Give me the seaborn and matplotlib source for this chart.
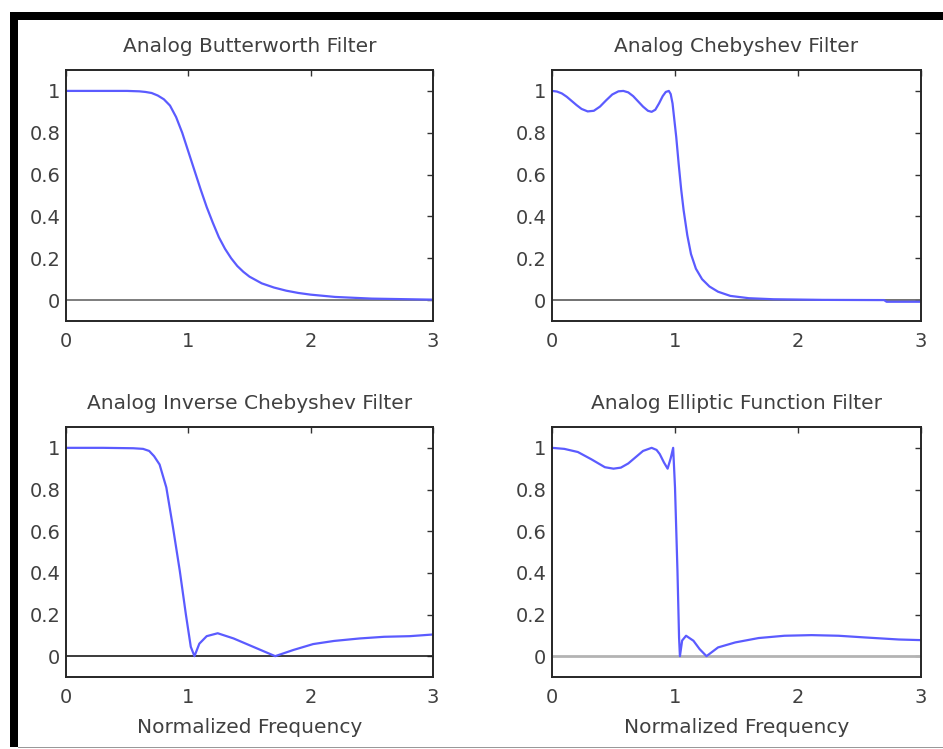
import seaborn as sns
import matplotlib.pyplot as plt
import pandas as pd
from matplotlib.patches import Rectangle

# Magnitude responses (normalized frequency vs |H|)

butter_x = [0, 0.3, 0.5, 0.6, 0.65, 0.7, 0.75, 0.8, 0.85, 0.9, 0.95, 1.0, 1.05, 1.1, 1.15,
            1.2, 1.25, 1.3, 1.35, 1.4, 1.45, 1.5, 1.6, 1.7, 1.8, 1.9, 2.0, 2.2, 2.5, 3.0]
butter_y = [1.0, 1.0, 1.0, 0.998, 0.995, 0.99, 0.978, 0.96, 0.93, 0.875, 0.80, 0.71, 0.62,
            0.53, 0.445, 0.37, 0.30, 0.245, 0.2, 0.163, 0.135, 0.112, 0.08, 0.06, 0.045,
            0.034, 0.026, 0.015, 0.007, 0.002]

cheby_x = [0, 0.04, 0.08, 0.12, 0.16, 0.2, 0.24, 0.29, 0.34, 0.39, 0.44, 0.49, 0.54, 0.58,
           0.62, 0.66, 0.70, 0.74, 0.78, 0.81, 0.84, 0.87, 0.9, 0.925, 0.95, 0.965, 0.98,
           0.995, 1.01, 1.03, 1.05, 1.07, 1.1, 1.13, 1.17, 1.22, 1.28, 1.35, 1.45, 1.6,
           1.8, 2.2, 2.7, 2.72, 3.0]
cheby_y = [1.0, 0.997, 0.988, 0.972, 0.952, 0.932, 0.914, 0.902, 0.905, 0.925, 0.955, 0.983,
           0.998, 1.0, 0.993, 0.975, 0.95, 0.925, 0.905, 0.90, 0.91, 0.94, 0.975, 0.995, 1.0,
           0.985, 0.94, 0.86, 0.78, 0.65, 0.53, 0.43, 0.31, 0.22, 0.15, 0.10, 0.065, 0.04,
           0.02, 0.009, 0.004, 0.001, 0.0, -0.008, -0.008]

inv_x = [0, 0.3, 0.55, 0.63, 0.68, 0.72, 0.765, 0.82, 0.874, 0.93, 0.98, 1.02, 1.05,
         1.09, 1.15, 1.24, 1.37, 1.53, 1.71, 1.86, 2.02, 2.19, 2.40, 2.60, 2.81, 3.0]
inv_y = [1.0, 1.0, 0.998, 0.995, 0.985, 0.96, 0.92, 0.81, 0.62, 0.41, 0.20, 0.045, 0.0,
         0.06, 0.096, 0.11, 0.085, 0.045, 0.0, 0.03, 0.058, 0.073, 0.085, 0.093, 0.096, 0.104]

ellip_x = [0, 0.1, 0.21, 0.32, 0.43, 0.5, 0.56, 0.62, 0.67, 0.74, 0.81, 0.85, 0.876, 0.91,
           0.94, 0.965, 0.985, 1.0, 1.02, 1.033, 1.04, 1.058, 1.09, 1.15, 1.2, 1.256,
           1.35, 1.49, 1.68, 1.89, 2.11, 2.33, 2.54, 2.82, 3.0]
ellip_y = [1.0, 0.995, 0.98, 0.945, 0.907, 0.90, 0.905, 0.925, 0.95, 0.985, 1.0, 0.99, 0.97,
           0.93, 0.90, 0.95, 1.0, 0.81, 0.41, 0.09, 0.0, 0.075, 0.098, 0.074, 0.034, 0.0,
           0.042, 0.066, 0.087, 0.098, 0.101, 0.098, 0.09, 0.08, 0.077]

titles = ["Analog Butterworth Filter", "Analog Chebyshev Filter",
          "Analog Inverse Chebyshev Filter", "Analog Elliptic Function Filter"]
x_ticks = [0, 1, 2, 3]
y_ticks = [0, 0.2, 0.4, 0.6, 0.8, 1]
y_tick_labels = ["0", "0.2", "0.4", "0.6", "0.8", "1"]

curves = [(butter_x, butter_y), (cheby_x, cheby_y), (inv_x, inv_y), (ellip_x, ellip_y)]

sns.set_theme(style="white")
plt.rcParams['font.family'] = ['DejaVu Sans']

W, H = 943, 749
fig = plt.figure(figsize=(W / 100, H / 100), dpi=100)

# axes boxes in pixels: left, top, right, bottom
boxes = [(66, 70, 433, 321), (552, 70, 921, 321),
         (66, 427, 433, 677), (552, 427, 921, 677)]
zero_colors = ["0.45", "0.4", "0.1", "0.7"]
zero_widths = [1.3, 1.3, 1.2, 2.0]

line_color = "#5b5bff"

for i, (box, (xs, ys)) in enumerate(zip(boxes, curves)):
    l, t, r, b = box
    ax = fig.add_axes([l / W, (H - b) / H, (r - l) / W, (b - t) / H])
    ax.axhline(0, color=zero_colors[i], lw=zero_widths[i], zorder=1)
    df = pd.DataFrame({"f": xs, "mag": ys})
    sns.lineplot(data=df, x="f", y="mag", ax=ax, color=line_color, lw=1.6,
                 sort=False, estimator=None, zorder=2)
    ax.set_xlim(0, 3)
    ax.set_ylim(-0.1, 1.1)
    ax.set_xticks(x_ticks)
    ax.set_xticklabels([str(v) for v in x_ticks])
    ax.set_yticks(y_ticks)
    ax.set_yticklabels(y_tick_labels)
    ax.tick_params(direction="in", top=True, right=True, length=4, width=1,
                   color="0.2", labelsize=14, labelcolor="0.25")
    ax.tick_params(axis="x", pad=8)
    ax.tick_params(axis="y", pad=4)
    for sp in ax.spines.values():
        sp.set_color("0.15")
        sp.set_linewidth(1.4)
    ax.set_title(titles[i], fontsize=14.5, color="0.25", pad=13)
    ax.set_ylabel("")
    if i >= 2:
        ax.set_xlabel("Normalized Frequency", fontsize=14.5, color="0.25", labelpad=8)
    else:
        ax.set_xlabel("")

# page frame around the figure
fig.add_artist(Rectangle((10 / W, (H - 20) / H), (W - 10) / W, 8 / H,
                         transform=fig.transFigure, color="black", lw=0))
fig.add_artist(Rectangle((10 / W, (H - 747) / H), 8 / W, 735 / H,
                         transform=fig.transFigure, color="black", lw=0))
fig.add_artist(Rectangle((18 / W, (H - 748) / H), (W - 18) / W, 1.5 / H,
                         transform=fig.transFigure, color="0.6", lw=0))

fig.savefig("out.png", dpi=100)
